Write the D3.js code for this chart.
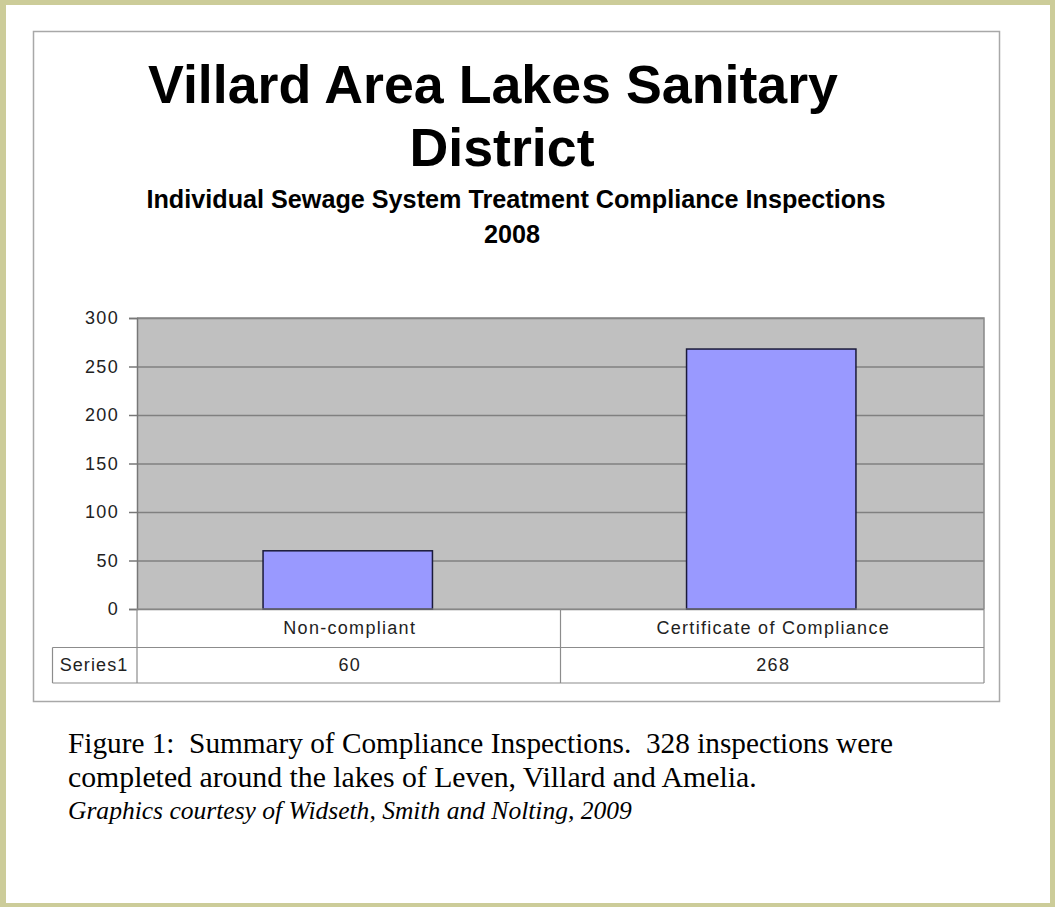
<!DOCTYPE html>
<html>
<head>
<meta charset="utf-8">
<script src="https://cdn.jsdelivr.net/npm/d3@7"></script>
<style>
  html, body { margin: 0; padding: 0; background: #fff; }
  svg { display: block; }
</style>
</head>
<body>
<svg id="chart" width="1055" height="907"></svg>
<script>
// ---- data ----
const categories = ["Non-compliant", "Certificate of Compliance"];
const seriesName = "Series1";
const values = [60, 268];
const yTicks = [0, 50, 100, 150, 200, 250, 300];
const titleLines = ["Villard Area Lakes Sanitary", "District"];
const subtitleLines = ["Individual Sewage System Treatment Compliance Inspections", "2008"];
const captionLines = [
  "Figure 1:  Summary of Compliance Inspections.  328 inspections were",
  "completed around the lakes of Leven, Villard and Amelia."
];
const creditLine = "Graphics courtesy of Widseth, Smith and Nolting, 2009";

const svg = d3.select("#chart");
const W = 1055, H = 907;

// page frame
svg.append("rect").attr("x", 0).attr("y", 0).attr("width", W).attr("height", H).attr("fill", "#cccc99");
svg.append("rect").attr("x", 6).attr("y", 5).attr("width", 1044).attr("height", 898).attr("fill", "#ffffff");

// chart box
svg.append("rect").attr("x", 33.5).attr("y", 31.5).attr("width", 966).attr("height", 670)
  .attr("fill", "#fff").attr("stroke", "#a8a8a8").attr("stroke-width", 1.5);

function fit(sel, target) {
  const fs = parseFloat(sel.attr("font-size"));
  const w = sel.node().getComputedTextLength();
  if (w > 0) sel.attr("font-size", (fs * target / w).toFixed(2));
}

// titles
const sans = "'Liberation Sans', Arial, sans-serif";
const t1 = svg.append("text").attr("x", 493).attr("y", 103).attr("text-anchor", "middle")
  .attr("font-family", sans).attr("font-weight", "bold").attr("font-size", 53).attr("fill", "#000")
  .text(titleLines[0]);
fit(t1, 690);
const fsTitle = t1.attr("font-size");
svg.append("text").attr("x", 502).attr("y", 166).attr("text-anchor", "middle")
  .attr("font-family", sans).attr("font-weight", "bold").attr("font-size", fsTitle).attr("fill", "#000")
  .text(titleLines[1]);

const s1 = svg.append("text").attr("x", 516).attr("y", 208).attr("text-anchor", "middle")
  .attr("font-family", sans).attr("font-weight", "bold").attr("font-size", 20).attr("fill", "#000")
  .text(subtitleLines[0]);
fit(s1, 739);
svg.append("text").attr("x", 512).attr("y", 243).attr("text-anchor", "middle")
  .attr("font-family", sans).attr("font-weight", "bold").attr("font-size", s1.attr("font-size")).attr("fill", "#000")
  .text(subtitleLines[1]);

// plot
const plotL = 137, plotR = 984, plotT = 318, plotB = 609;
const y = d3.scaleLinear().domain([0, 300]).range([plotB, plotT]);
const x = d3.scaleBand().domain(categories).range([plotL, plotR]).paddingInner(0).paddingOuter(0);

svg.append("rect").attr("x", plotL).attr("y", plotT).attr("width", plotR - plotL).attr("height", plotB - plotT)
  .attr("fill", "#c0c0c0");

// gridlines
const grid = svg.append("g").attr("transform", `translate(${plotL},0)`)
  .call(d3.axisLeft(y).tickValues(yTicks).tickSize(-(plotR - plotL)).tickFormat(""));
grid.select(".domain").remove();
grid.selectAll("line").attr("stroke", "#808080").attr("stroke-width", 1.5);

// plot border (top/right)
svg.append("path").attr("d", `M${plotL},${plotT}H${plotR}V${plotB}`).attr("fill", "none")
  .attr("stroke", "#888").attr("stroke-width", 1.5);

// bars
const bw = x.bandwidth() * 0.4;
svg.append("g").selectAll("rect").data(values).join("rect")
  .attr("x", (d, i) => x(categories[i]) + (x.bandwidth() - bw) / 2 - 1)
  .attr("y", d => y(d))
  .attr("width", bw)
  .attr("height", d => y(0) - y(d))
  .attr("fill", "#9999ff").attr("stroke", "#1a1a3a").attr("stroke-width", 1.5);

const labelFont = 18, labelSpacing = 1.3;

// y axis
const yAxis = svg.append("g").attr("transform", `translate(${plotL},0)`)
  .call(d3.axisLeft(y).tickValues(yTicks).tickSize(8).tickPadding(10));
yAxis.select(".domain").attr("stroke", "#777").attr("stroke-width", 1.5);
yAxis.selectAll(".tick line").attr("stroke", "#777").attr("stroke-width", 1.5);
yAxis.selectAll(".tick text").attr("font-family", sans).attr("font-size", labelFont)
  .attr("letter-spacing", labelSpacing).attr("fill", "#222");

// data table
const tableL = 52.5, row1B = 647.5, row2B = 683;
const tbl = svg.append("g").attr("stroke", "#8c8c8c").attr("stroke-width", 1.2).attr("fill", "none");
tbl.append("line").attr("x1", plotL).attr("x2", plotR).attr("y1", plotB).attr("y2", plotB);
tbl.append("line").attr("x1", tableL).attr("x2", plotR).attr("y1", row1B).attr("y2", row1B);
tbl.append("line").attr("x1", tableL).attr("x2", plotR).attr("y1", row2B).attr("y2", row2B);
tbl.append("line").attr("x1", tableL).attr("x2", tableL).attr("y1", row1B).attr("y2", row2B);
tbl.append("line").attr("x1", plotL).attr("x2", plotL).attr("y1", plotB).attr("y2", row2B);
tbl.append("line").attr("x1", plotR).attr("x2", plotR).attr("y1", plotB).attr("y2", row2B);
tbl.selectAll("line.div").data(categories.slice(1)).join("line").attr("class", "div")
  .attr("x1", d => x(d)).attr("x2", d => x(d)).attr("y1", plotB).attr("y2", row2B);

svg.append("g").selectAll("text").data(categories).join("text")
  .attr("x", d => x(d) + x.bandwidth() / 2 + 1).attr("y", 634).attr("text-anchor", "middle")
  .attr("font-family", sans).attr("font-size", labelFont).attr("letter-spacing", labelSpacing)
  .attr("fill", "#222").text(d => d);
svg.append("g").selectAll("text").data(values).join("text")
  .attr("x", (d, i) => x(categories[i]) + x.bandwidth() / 2 + 1).attr("y", 671).attr("text-anchor", "middle")
  .attr("font-family", sans).attr("font-size", labelFont).attr("letter-spacing", labelSpacing)
  .attr("fill", "#222").text(d => d);
svg.append("text").attr("x", 94).attr("y", 671).attr("text-anchor", "middle")
  .attr("font-family", sans).attr("font-size", labelFont).attr("letter-spacing", 1.1)
  .attr("fill", "#222").text(seriesName);

// caption
const serif = "'Liberation Serif', 'Times New Roman', serif";
const c1 = svg.append("text").attr("x", 68).attr("y", 753).attr("font-family", serif)
  .attr("font-size", 22).attr("fill", "#000").style("white-space", "pre")
  .text(captionLines[0]);
fit(c1, 825);
const c2 = svg.append("text").attr("x", 68).attr("y", 787).attr("font-family", serif)
  .attr("font-size", 22).attr("fill", "#000").text(captionLines[1]);
fit(c2, 689);
const c3 = svg.append("text").attr("x", 68).attr("y", 819).attr("font-family", serif).attr("font-style", "italic")
  .attr("font-size", 21).attr("fill", "#000").text(creditLine);
fit(c3, 564);
</script>
</body>
</html>
